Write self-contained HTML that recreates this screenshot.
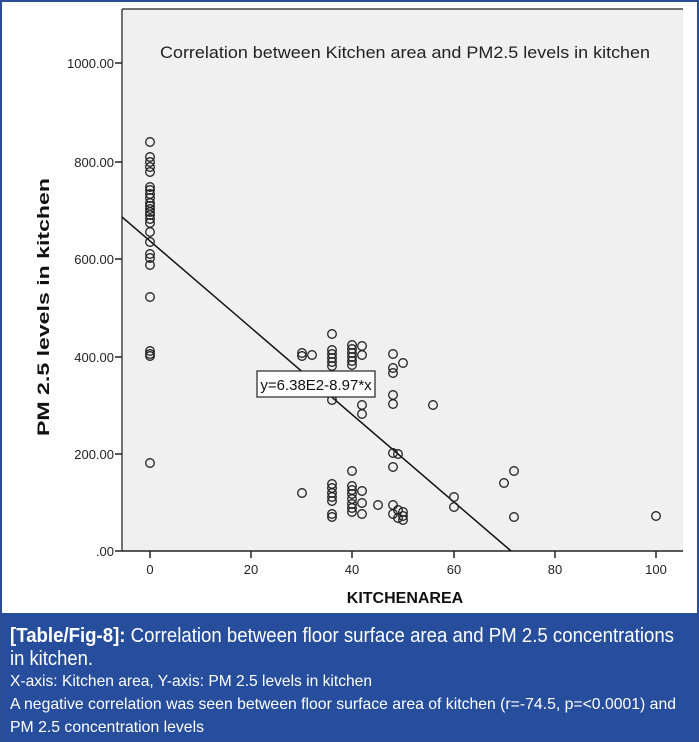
<!DOCTYPE html>
<html><head><meta charset="utf-8"><style>
html,body{margin:0;padding:0;background:#fff;}
body{width:699px;height:742px;overflow:hidden;}
svg{display:block;}
</style></head><body>
<svg width="699" height="742" viewBox="0 0 699 742" xmlns="http://www.w3.org/2000/svg" font-family="Liberation Sans, Arial, sans-serif">
<rect x="0" y="0" width="699" height="742" fill="#fff"/>
<rect x="1" y="1" width="697" height="740" fill="none" stroke="#2a4d95" stroke-width="2"/>
<rect x="122" y="9" width="561" height="542" fill="#f0f0f0"/>
<line x1="122" y1="9" x2="683" y2="9" stroke="#444" stroke-width="1.5"/>
<line x1="122" y1="9" x2="122" y2="551" stroke="#444" stroke-width="1.5"/>
<line x1="122" y1="551" x2="683" y2="551" stroke="#222" stroke-width="1.5"/>
<text x="160" y="58" font-size="16.5" fill="#222" textLength="490" lengthAdjust="spacingAndGlyphs">Correlation between Kitchen area and PM2.5 levels in kitchen</text>
<g stroke="#222" stroke-width="1.5">
<line x1="115" y1="63" x2="122" y2="63"/><line x1="115" y1="162" x2="122" y2="162"/><line x1="115" y1="259" x2="122" y2="259"/><line x1="115" y1="357" x2="122" y2="357"/><line x1="115" y1="454" x2="122" y2="454"/><line x1="115" y1="551" x2="122" y2="551"/>
<line x1="150" y1="551" x2="150" y2="558"/><line x1="251" y1="551" x2="251" y2="558"/><line x1="352" y1="551" x2="352" y2="558"/><line x1="454" y1="551" x2="454" y2="558"/><line x1="555" y1="551" x2="555" y2="558"/><line x1="656" y1="551" x2="656" y2="558"/>
</g>
<g font-size="13" fill="#222" text-anchor="end">
<text x="114" y="68">1000.00</text><text x="114" y="167">800.00</text><text x="114" y="264">600.00</text><text x="114" y="362">400.00</text><text x="114" y="459">200.00</text><text x="114" y="556">.00</text>
</g>
<g font-size="13" fill="#222" text-anchor="middle">
<text x="150" y="574">0</text><text x="251" y="574">20</text><text x="352" y="574">40</text><text x="454" y="574">60</text><text x="555" y="574">80</text><text x="656" y="574">100</text>
</g>
<text x="405" y="603" font-size="16" font-weight="bold" fill="#111" text-anchor="middle">KITCHENAREA</text>
<text transform="translate(49,436) rotate(-90)" font-size="17" font-weight="bold" fill="#111" textLength="258" lengthAdjust="spacingAndGlyphs">PM 2.5 levels in kitchen</text>
<line x1="122" y1="217" x2="511" y2="551" stroke="#111" stroke-width="1.5"/>
<g fill="none" stroke="#222" stroke-width="1.3">
<circle cx="150" cy="142" r="4.3"/><circle cx="150" cy="157" r="4.3"/><circle cx="150" cy="162" r="4.3"/><circle cx="150" cy="167" r="4.3"/><circle cx="150" cy="172" r="4.3"/><circle cx="150" cy="187" r="4.3"/><circle cx="150" cy="190" r="4.3"/><circle cx="150" cy="194" r="4.3"/><circle cx="150" cy="198" r="4.3"/><circle cx="150" cy="203" r="4.3"/><circle cx="150" cy="206" r="4.3"/><circle cx="150" cy="209" r="4.3"/><circle cx="150" cy="212" r="4.3"/><circle cx="150" cy="215" r="4.3"/><circle cx="150" cy="219" r="4.3"/><circle cx="150" cy="223" r="4.3"/><circle cx="150" cy="232" r="4.3"/><circle cx="150" cy="242" r="4.3"/><circle cx="150" cy="254" r="4.3"/><circle cx="150" cy="258" r="4.3"/><circle cx="150" cy="265" r="4.3"/><circle cx="150" cy="297" r="4.3"/><circle cx="150" cy="351" r="4.3"/><circle cx="150" cy="354" r="4.3"/><circle cx="150" cy="356" r="4.3"/><circle cx="150" cy="463" r="4.3"/>
<circle cx="302" cy="353" r="4.3"/><circle cx="302" cy="356" r="4.3"/><circle cx="312" cy="355" r="4.3"/><circle cx="302" cy="493" r="4.3"/>
<circle cx="332" cy="334" r="4.3"/><circle cx="332" cy="350" r="4.3"/><circle cx="332" cy="354" r="4.3"/><circle cx="332" cy="358" r="4.3"/><circle cx="332" cy="362" r="4.3"/><circle cx="332" cy="366" r="4.3"/><circle cx="332" cy="400" r="4.3"/><circle cx="332" cy="484" r="4.3"/><circle cx="332" cy="488" r="4.3"/><circle cx="332" cy="493" r="4.3"/><circle cx="332" cy="497" r="4.3"/><circle cx="332" cy="501" r="4.3"/><circle cx="332" cy="514" r="4.3"/><circle cx="332" cy="517" r="4.3"/>
<circle cx="352" cy="345" r="4.3"/><circle cx="352" cy="349" r="4.3"/><circle cx="352" cy="353" r="4.3"/><circle cx="352" cy="357" r="4.3"/><circle cx="352" cy="361" r="4.3"/><circle cx="352" cy="365" r="4.3"/><circle cx="352" cy="471" r="4.3"/><circle cx="352" cy="486" r="4.3"/><circle cx="352" cy="490" r="4.3"/><circle cx="352" cy="494" r="4.3"/><circle cx="352" cy="499" r="4.3"/><circle cx="352" cy="504" r="4.3"/><circle cx="352" cy="508" r="4.3"/><circle cx="352" cy="512" r="4.3"/>
<circle cx="362" cy="346" r="4.3"/><circle cx="362" cy="355" r="4.3"/><circle cx="362" cy="405" r="4.3"/><circle cx="362" cy="414" r="4.3"/><circle cx="362" cy="491" r="4.3"/><circle cx="362" cy="503" r="4.3"/><circle cx="362" cy="514" r="4.3"/>
<circle cx="378" cy="505" r="4.3"/>
<circle cx="393" cy="354" r="4.3"/><circle cx="393" cy="368" r="4.3"/><circle cx="393" cy="373" r="4.3"/><circle cx="393" cy="395" r="4.3"/><circle cx="393" cy="404" r="4.3"/><circle cx="393" cy="453" r="4.3"/><circle cx="393" cy="467" r="4.3"/><circle cx="393" cy="505" r="4.3"/><circle cx="393" cy="514" r="4.3"/>
<circle cx="398" cy="454" r="4.3"/><circle cx="398" cy="510" r="4.3"/><circle cx="398" cy="518" r="4.3"/>
<circle cx="403" cy="363" r="4.3"/><circle cx="403" cy="512" r="4.3"/><circle cx="403" cy="516" r="4.3"/><circle cx="403" cy="520" r="4.3"/>
<circle cx="433" cy="405" r="4.3"/>
<circle cx="454" cy="497" r="4.3"/><circle cx="454" cy="507" r="4.3"/>
<circle cx="504" cy="483" r="4.3"/><circle cx="514" cy="471" r="4.3"/><circle cx="514" cy="517" r="4.3"/>
<circle cx="656" cy="516" r="4.3"/>
</g>
<rect x="257" y="371" width="118" height="26" fill="#fff" stroke="#222" stroke-width="1.2"/>
<text x="316" y="390" font-size="15" fill="#111" text-anchor="middle">y=6.38E2-8.97*x</text>
<rect x="2" y="613" width="695" height="127" fill="#274e9c"/>
<g fill="#fff">
<text x="10" y="642" font-size="20" textLength="664" lengthAdjust="spacingAndGlyphs"><tspan font-weight="bold">[Table/Fig-8]:</tspan> Correlation between floor surface area and PM 2.5 concentrations</text>
<text x="10" y="665" font-size="20" textLength="83" lengthAdjust="spacingAndGlyphs">in kitchen.</text>
<text x="10" y="686" font-size="16" textLength="362" lengthAdjust="spacingAndGlyphs">X-axis: Kitchen area, Y-axis: PM 2.5 levels in kitchen</text>
<text x="10" y="709" font-size="16" textLength="666" lengthAdjust="spacingAndGlyphs">A negative correlation was seen between floor surface area of kitchen (r=-74.5, p=&lt;0.0001) and</text>
<text x="10" y="732" font-size="16" textLength="194" lengthAdjust="spacingAndGlyphs">PM 2.5 concentration levels</text>
</g>
</svg>
</body></html>
